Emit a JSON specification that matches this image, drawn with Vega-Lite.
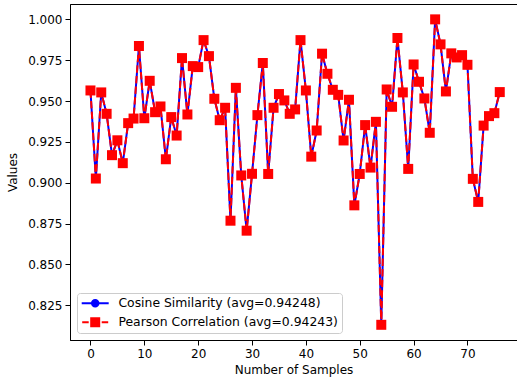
{
  "$schema": "https://vega.github.io/schema/vega-lite/v6.json",
  "autosize": {"type": "none"},
  "padding": {"left": 70, "top": 4, "right": 0, "bottom": 41},
  "width": 447,
  "height": 336,
  "background": "white",
  "config": {
    "font": "DejaVu Sans",
    "view": {"stroke": "black", "strokeWidth": 1},
    "axis": {
      "grid": false,
      "domainColor": "black",
      "tickColor": "black",
      "tickSize": 5,
      "labelFontSize": 12,
      "labelColor": "black",
      "labelFont": "DejaVu Sans",
      "titleFont": "DejaVu Sans",
      "titleFontSize": 12,
      "titleFontWeight": "normal",
      "titleColor": "black",
      "labelPadding": 3
    },
    "legend": {
      "orient": "bottom-left",
      "offset": 7,
      "fillColor": "rgba(255,255,255,0.8)",
      "strokeColor": "#cccccc",
      "cornerRadius": 3,
      "padding": 4,
      "labelFontSize": 12.4,
      "labelColor": "black",
      "labelFont": "DejaVu Sans",
      "labelLimit": 0,
      "symbolSize": 100,
      "symbolOffset": 8,
      "labelOffset": 17,
      "rowPadding": 6,
      "symbolStrokeWidth": 0,
      "symbolOpacity": 1
    }
  },
  "data": {
    "values": [
      {"n":0,"cos":0.9565,"pear":0.9565},{"n":1,"cos":0.9026,"pear":0.9026},{"n":2,"cos":0.9553,"pear":0.9553},{"n":3,"cos":0.9422,"pear":0.9422},{"n":4,"cos":0.9169,"pear":0.9169},{"n":5,"cos":0.926,"pear":0.926},{"n":6,"cos":0.912,"pear":0.912},{"n":7,"cos":0.9365,"pear":0.9365},{"n":8,"cos":0.9393,"pear":0.9393},{"n":9,"cos":0.9837,"pear":0.9837},
      {"n":10,"cos":0.9395,"pear":0.9395},{"n":11,"cos":0.9624,"pear":0.9624},{"n":12,"cos":0.9432,"pear":0.9432},{"n":13,"cos":0.9467,"pear":0.9467},{"n":14,"cos":0.9144,"pear":0.9144},{"n":15,"cos":0.9402,"pear":0.9402},{"n":16,"cos":0.9289,"pear":0.9289},{"n":17,"cos":0.9763,"pear":0.9763},{"n":18,"cos":0.9418,"pear":0.9418},{"n":19,"cos":0.9714,"pear":0.9714},
      {"n":20,"cos":0.9708,"pear":0.9708},{"n":21,"cos":0.9873,"pear":0.9873},{"n":22,"cos":0.9775,"pear":0.9775},{"n":23,"cos":0.9514,"pear":0.9514},{"n":24,"cos":0.9383,"pear":0.9383},{"n":25,"cos":0.9459,"pear":0.9459},{"n":26,"cos":0.8768,"pear":0.8768},{"n":27,"cos":0.9581,"pear":0.9581},{"n":28,"cos":0.9045,"pear":0.9045},{"n":29,"cos":0.8707,"pear":0.8707},
      {"n":30,"cos":0.9055,"pear":0.9055},{"n":31,"cos":0.9414,"pear":0.9414},{"n":32,"cos":0.9733,"pear":0.9733},{"n":33,"cos":0.9054,"pear":0.9054},{"n":34,"cos":0.9459,"pear":0.9459},{"n":35,"cos":0.9543,"pear":0.9543},{"n":36,"cos":0.9504,"pear":0.9504},{"n":37,"cos":0.9422,"pear":0.9422},{"n":38,"cos":0.9449,"pear":0.9449},{"n":39,"cos":0.9873,"pear":0.9873},
      {"n":40,"cos":0.9565,"pear":0.9565},{"n":41,"cos":0.916,"pear":0.916},{"n":42,"cos":0.932,"pear":0.932},{"n":43,"cos":0.979,"pear":0.979},{"n":44,"cos":0.9667,"pear":0.9667},{"n":45,"cos":0.9569,"pear":0.9569},{"n":46,"cos":0.9538,"pear":0.9538},{"n":47,"cos":0.9259,"pear":0.9259},{"n":48,"cos":0.9508,"pear":0.9508},{"n":49,"cos":0.8862,"pear":0.8862},
      {"n":50,"cos":0.9054,"pear":0.9054},{"n":51,"cos":0.9353,"pear":0.9353},{"n":52,"cos":0.9093,"pear":0.9093},{"n":53,"cos":0.9373,"pear":0.9373},{"n":54,"cos":0.8131,"pear":0.8131},{"n":55,"cos":0.9571,"pear":0.9571},{"n":56,"cos":0.9465,"pear":0.9465},{"n":57,"cos":0.9886,"pear":0.9886},{"n":58,"cos":0.9553,"pear":0.9553},{"n":59,"cos":0.9085,"pear":0.9085},
      {"n":60,"cos":0.9724,"pear":0.9724},{"n":61,"cos":0.9618,"pear":0.9618},{"n":62,"cos":0.9516,"pear":0.9516},{"n":63,"cos":0.9306,"pear":0.9306},{"n":64,"cos":1.0,"pear":1.0},{"n":65,"cos":0.9847,"pear":0.9847},{"n":66,"cos":0.9559,"pear":0.9559},{"n":67,"cos":0.9792,"pear":0.9792},{"n":68,"cos":0.9767,"pear":0.9767},{"n":69,"cos":0.9781,"pear":0.9781},
      {"n":70,"cos":0.9722,"pear":0.9722},{"n":71,"cos":0.9024,"pear":0.9024},{"n":72,"cos":0.8883,"pear":0.8883},{"n":73,"cos":0.935,"pear":0.935},{"n":74,"cos":0.9408,"pear":0.9408},{"n":75,"cos":0.9426,"pear":0.9426},{"n":76,"cos":0.9555,"pear":0.9555}
    ]
  },
  "encoding": {
    "x": {
      "field": "n", "type": "quantitative",
      "scale": {"domain": [-3.8, 79.2], "nice": false, "zero": false},
      "axis": {"values": [0,10,20,30,40,50,60,70], "title": "Number of Samples", "titlePadding": 5}
    }
  },
  "layer": [
    {
      "mark": {"type": "line", "color": "blue", "strokeWidth": 2},
      "encoding": {
        "y": {
          "field": "cos", "type": "quantitative",
          "scale": {"domain": [0.8038, 1.0094], "nice": false, "zero": false},
          "axis": {"values": [0.825,0.85,0.875,0.9,0.925,0.95,0.975,1.0], "format": ".3f", "title": "Values", "titlePadding": 8}
        }
      }
    },
    {
      "mark": {"type": "point", "shape": "circle", "filled": true, "opacity": 1, "size": 64, "color": "blue"},
      "encoding": {"y": {"field": "cos", "type": "quantitative"}}
    },
    {
      "mark": {"type": "line", "color": "red", "strokeWidth": 2, "strokeDash": [7.4, 3.2]},
      "encoding": {"y": {"field": "pear", "type": "quantitative"}}
    },
    {
      "mark": {"type": "point", "shape": "square", "filled": true, "opacity": 1, "size": 100, "color": "red"},
      "encoding": {"y": {"field": "pear", "type": "quantitative"}}
    },
    {
      "transform": [{"filter": "datum.n < 0"}],
      "mark": {"type": "point", "filled": true},
      "encoding": {
        "y": {"field": "cos", "type": "quantitative"},
        "color": {
          "datum": "cos",
          "scale": {"domain": ["cos", "pear"], "range": ["blue", "red"]},
          "legend": {
            "title": null,
            "labelExpr": "datum.value == 'cos' ? 'Cosine Similarity (avg=0.94248)' : 'Pearson Correlation (avg=0.94243)'"
          }
        },
        "shape": {
          "datum": "cos",
          "scale": {"domain": ["cos", "pear"], "range": ["M-2.7,-0.2H2.7V0.2H-2.7Z M0.85,0A0.85,0.85 0 1,1 -0.85,0A0.85,0.85 0 1,1 0.85,0Z", "M-2.6,-0.2H-1.3V0.2H-2.6Z M1.3,-0.2H2.6V0.2H1.3Z M-1,-1H1V1H-1Z"]},
          "legend": {
            "title": null,
            "labelExpr": "datum.value == 'cos' ? 'Cosine Similarity (avg=0.94248)' : 'Pearson Correlation (avg=0.94243)'"
          }
        }
      }
    },
    {
      "transform": [{"filter": "datum.n < 0"}],
      "mark": {"type": "point", "filled": true},
      "encoding": {
        "y": {"field": "pear", "type": "quantitative"},
        "color": {"datum": "pear"},
        "shape": {"datum": "pear"}
      }
    }
  ]
}
